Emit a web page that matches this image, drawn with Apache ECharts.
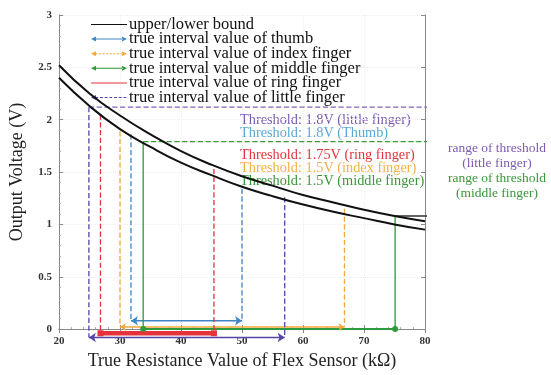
<!DOCTYPE html>
<html>
<head>
<meta charset="utf-8">
<script src="https://cdn.jsdelivr.net/npm/echarts@6/dist/echarts.min.js"></script>
<style>
  html, body { margin: 0; padding: 0; background: #fff; }
  #chart { width: 551px; height: 375px; }
</style>
</head>
<body>
<div id="chart"></div>
<script>
// bound curves
const resistance = [20, 25, 30, 35, 40, 45, 50, 55, 60, 65, 70, 75, 80];
const upperBound = [2.52, 2.25, 2.04, 1.86, 1.70, 1.57, 1.46, 1.37, 1.28, 1.21, 1.14, 1.08, 1.03];
const lowerBound = [2.40, 2.13, 1.91, 1.74, 1.59, 1.47, 1.36, 1.27, 1.19, 1.12, 1.06, 1.00, 0.95];

// true interval per finger
const fingerNames = ['thumb', 'index finger', 'middle finger', 'ring finger', 'little finger'];
const fingerLeft = [31.8, 30.0, 33.8, 26.8, 24.9];
const fingerRight = [50.0, 66.8, 75.1, 45.4, 57.0];
const fingerLeftTop = [1.86, 1.89, 1.79, 2.05, 2.12];
const fingerRightTop = [1.34, 1.15, 1.08, 1.53, 1.26];
const fingerBase = [0.08, 0.02, 0.0, -0.04, -0.08];

// threshold guide lines
const littleRange = [[24.9, 2.12], [81.0, 2.12], [81.0, 1.34], [80.6, 1.34]];
const middleTop = [[33.8, 1.79], [81.5, 1.79]];
const middleRange = [[81.5, 1.79], [81.5, 1.08], [75.1, 1.08]];
const littleLink = [[81.0, 1.74], [83.2, 1.74]];
const middleLink = [[81.5, 1.45], [83.0, 1.45]];

const thresholdTexts = [
  'Threshold: 1.8V (little finger)',
  'Threshold: 1.8V (Thumb)',
  'Threshold: 1.75V (ring finger)',
  'Threshold: 1.5V (index finger)',
  'Threshold: 1.5V (middle finger)'
];
const rangeTexts = ['range of threshold\n(little finger)', 'range of threshold\n(middle finger)'];

const FONT = '"Liberation Serif", "DejaVu Serif", serif';
const fingerColor = ['#3f86c4', '#f3a83b', '#2f9a3c', '#e5323b', '#5546a6'];
const fingerLine = ['dashed', 'dashed', 'solid', 'dashed', 'dashed'];
const fingerEnd = [
  { symbol: ['arrow', 'arrow'], size: 7, width: 1.5 },
  { symbol: ['arrow', 'arrow'], size: 6, width: 1.5 },
  { symbol: ['circle', 'circle'], size: 6, width: 2 },
  { symbol: ['rect', 'rect'], size: 6, width: 4.5 },
  { symbol: ['arrow', 'arrow'], size: 7, width: 1.5 }
];
const textColor = ['#7c5bb0', '#5aa9d2', '#e2343e', '#f2b24a', '#3a973a'];

// legend icons drawn as paths in a 50x10 box
const BOX = 'M0,0M50,10';
const HEADS = 'M0,5L7,1.5L7,8.5ZM50,5L43,1.5L43,8.5Z';
function dashes(from, to, len, gap) {
  let p = '';
  for (let x = from; x < to; x += len + gap) {
    const e = Math.min(x + len, to);
    p += 'M' + x + ',4.3L' + e + ',4.3L' + e + ',5.7L' + x + ',5.7Z';
  }
  return p;
}
const iconSolid = 'path://' + BOX + dashes(0, 50, 50, 0);
const iconArrow = 'path://' + BOX + HEADS + dashes(6, 44, 38, 0);
const iconArrowDash = 'path://' + BOX + HEADS + dashes(6, 44, 3, 2);
const iconDash = 'path://' + BOX + 'M0,5L7,1.5L7,8.5Z' + dashes(6, 50, 4, 2.5);
const fingerIcon = [iconArrow, iconArrowDash, iconArrow, iconSolid, iconDash];

const chart = echarts.init(document.getElementById('chart'), null, { renderer: 'canvas' });

const boundSeries = [upperBound, lowerBound].map(vals => ({
  name: 'upper/lower bound',
  type: 'line',
  data: resistance.map((r, i) => [r, vals[i]]),
  smooth: true,
  symbol: 'none',
  itemStyle: { color: '#111' },
  lineStyle: { color: '#111', width: 2 },
  z: 5
}));

const fingerSeries = [];
fingerNames.forEach((f, i) => {
  const name = 'true interval value of ' + f;
  const end = fingerEnd[i];
  // vertical drop lines from the curve
  fingerSeries.push({
    name: name,
    type: 'line',
    clip: false,
    symbol: 'none',
    data: [
      [fingerLeft[i], fingerLeftTop[i]],
      [fingerLeft[i], fingerBase[i]],
      [fingerRight[i], '-'],
      [fingerRight[i], fingerRightTop[i]],
      [fingerRight[i], fingerBase[i]]
    ],
    itemStyle: { color: fingerColor[i] },
    lineStyle: { color: fingerColor[i], width: 1.3, type: fingerLine[i] }
  });
  // interval along the bottom
  fingerSeries.push({
    name: name,
    type: 'line',
    clip: false,
    showSymbol: true,
    symbolSize: end.size,
    data: [
      { value: [fingerLeft[i], fingerBase[i]], symbol: end.symbol[0], symbolRotate: 90 },
      { value: [fingerRight[i], fingerBase[i]], symbol: end.symbol[1], symbolRotate: -90 }
    ],
    itemStyle: { color: fingerColor[i] },
    lineStyle: { color: fingerColor[i], width: end.width },
    z: 3
  });
});

function guide(data, color, type) {
  return {
    name: 'guide',
    type: 'line',
    clip: false,
    symbol: 'none',
    silent: true,
    data: data,
    itemStyle: { color: color },
    lineStyle: { color: color, width: 1.3, type: type }
  };
}

const textMid = [120, 133, 155, 168, 181];
const rangeMid = [156, 186];
const rangeColor = ['#7c5bb0', '#3a973a'];

const option = {
  animation: false,
  grid: { left: 55, right: 126, top: 15, bottom: 44 },
  legend: {
    data: [{ name: 'upper/lower bound', icon: iconSolid }].concat(
      fingerNames.map((f, i) => ({ name: 'true interval value of ' + f, icon: fingerIcon[i] }))
    ),
    orient: 'vertical',
    left: 86,
    top: 11,
    itemGap: -2.4,
    itemWidth: 36,
    itemHeight: 8,
    itemStyle: { borderWidth: 0 },
    textStyle: { fontFamily: FONT, fontSize: 16.5, color: '#111', padding: [0, 0, 0, -3] }
  },
  xAxis: [
    {
      type: 'value',
      min: 20,
      max: 80,
      interval: 10,
      name: 'True Resistance Value of Flex Sensor (kΩ)',
      nameLocation: 'middle',
      nameGap: 22,
      nameTextStyle: { fontFamily: FONT, fontSize: 18, color: '#222' },
      axisLine: { lineStyle: { color: '#888' } },
      axisTick: { inside: true, length: 4, lineStyle: { color: '#888' } },
      minorTick: { show: true, splitNumber: 5, length: 2, lineStyle: { color: '#aaa' } },
      axisLabel: { fontFamily: FONT, fontSize: 11, fontWeight: 'bold', color: '#333', margin: 7 },
      splitLine: { show: true, lineStyle: { color: '#eee', type: 'dotted' } }
    },
    {
      type: 'value',
      position: 'top',
      min: 20,
      max: 80,
      interval: 10,
      axisLine: { show: true, lineStyle: { color: '#888' } },
      axisTick: { inside: true, length: 4, lineStyle: { color: '#888' } },
      axisLabel: { show: false },
      splitLine: { show: false }
    }
  ],
  yAxis: [
    {
      type: 'value',
      min: 0,
      max: 3,
      interval: 0.5,
      name: 'Output Voltage (V)',
      nameLocation: 'middle',
      nameGap: 33,
      nameTextStyle: { fontFamily: FONT, fontSize: 18, color: '#222' },
      axisLine: { show: true, lineStyle: { color: '#888' } },
      axisTick: { show: true, inside: true, length: 4, lineStyle: { color: '#888' } },
      minorTick: { show: true, splitNumber: 5, length: 2, lineStyle: { color: '#aaa' } },
      axisLabel: { fontFamily: FONT, fontSize: 11, fontWeight: 'bold', color: '#333', margin: 7 },
      splitLine: { show: true, lineStyle: { color: '#eee', type: 'dotted' } }
    },
    {
      type: 'value',
      position: 'right',
      min: 0,
      max: 3,
      interval: 0.5,
      axisLine: { show: true, lineStyle: { color: '#888' } },
      axisTick: { show: true, inside: true, length: 4, lineStyle: { color: '#888' } },
      axisLabel: { show: false },
      splitLine: { show: false }
    }
  ],
  series: boundSeries.concat(fingerSeries, [
    guide(littleRange, '#8064b4', 'dashed'),
    guide(middleTop, '#3a9a3a', 'dashed'),
    guide(middleRange, '#333', 'solid'),
    guide(littleLink, '#7c5bb0', 'solid'),
    guide(middleLink, '#3a973a', 'solid')
  ]),
  graphic: thresholdTexts.map((t, i) => ({
    type: 'text',
    x: 240,
    y: textMid[i],
    style: { text: t, fill: textColor[i], font: '14.3px ' + FONT, verticalAlign: 'middle' }
  })).concat(rangeTexts.map((t, i) => ({
    type: 'text',
    x: 497,
    y: rangeMid[i],
    style: { text: t, fill: rangeColor[i], font: '13.5px ' + FONT, align: 'center', verticalAlign: 'middle', lineHeight: 15 }
  })))
};

chart.setOption(option);
</script>
</body>
</html>
